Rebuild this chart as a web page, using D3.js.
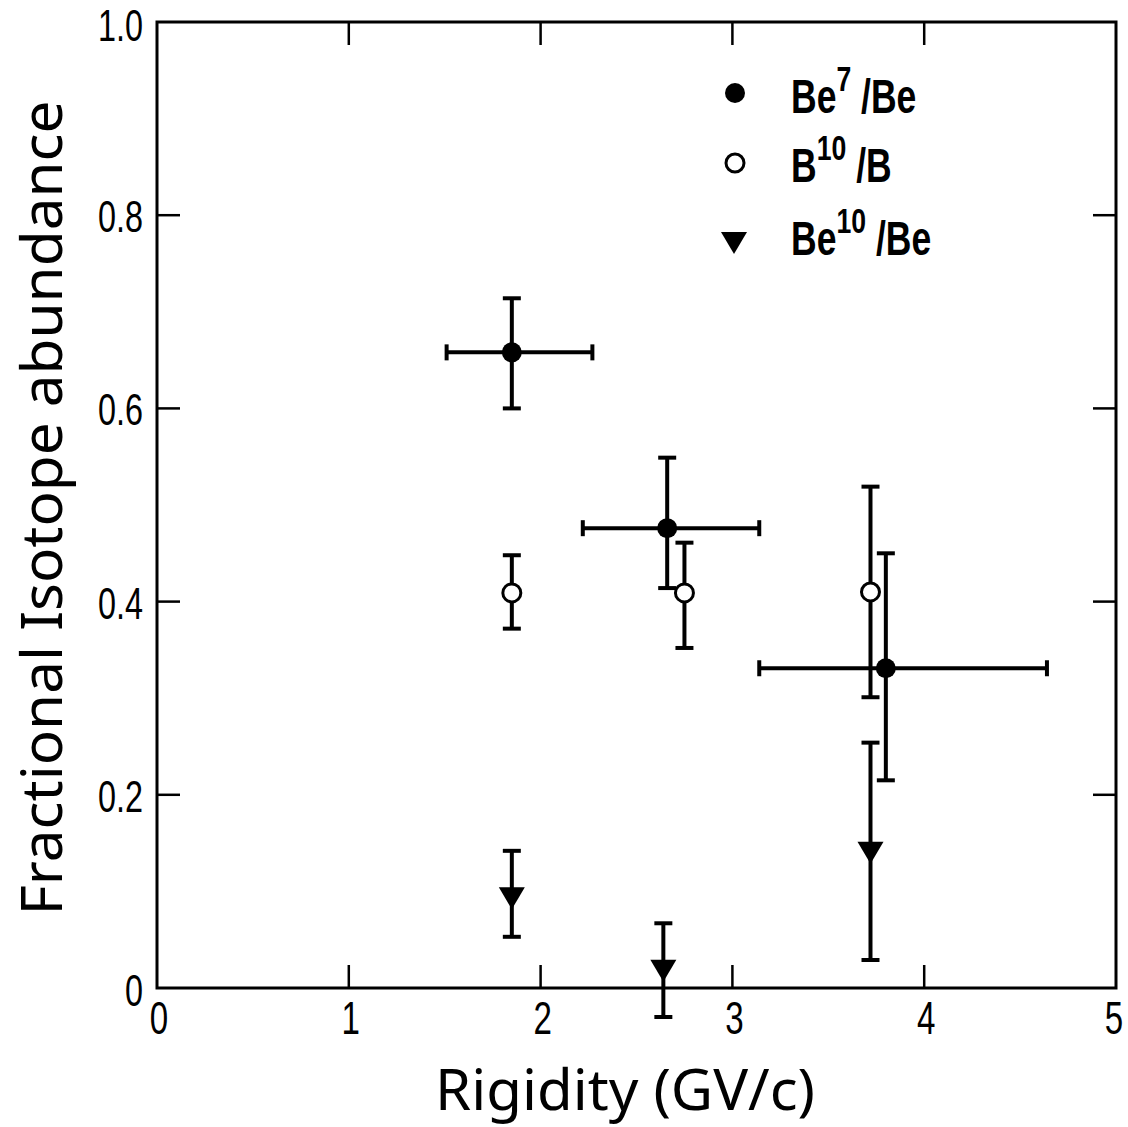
<!DOCTYPE html>
<meta charset="utf-8">
<style>
  body { margin: 0; background: #fff; }
  text { fill: #000; }
</style>
<body>
<script src="https://d3js.org/d3.v7.min.js"></script>
<script>
  // values
  var xTicks = [0, 1, 2, 3, 4, 5];
  var yTicks = [0, 0.2, 0.4, 0.6, 0.8, 1.0];
  var yTickLabels = ["0", "0.2", "0.4", "0.6", "0.8", "1.0"];

  // Be7/Be : filled circles
  var be7 = [
    {x: 1.85, y: 0.658, yLo: 0.600, yHi: 0.714, xLo: 1.51, xHi: 2.27},
    {x: 2.66, y: 0.476, yLo: 0.414, yHi: 0.549, xLo: 2.22, xHi: 3.14},
    {x: 3.80, y: 0.331, yLo: 0.215, yHi: 0.450, xLo: 3.14, xHi: 4.64}
  ];
  // B10/B : open circles
  var b10 = [
    {x: 1.85, y: 0.409, yLo: 0.372, yHi: 0.448},
    {x: 2.75, y: 0.409, yLo: 0.352, yHi: 0.461},
    {x: 3.72, y: 0.410, yLo: 0.301, yHi: 0.519}
  ];
  // Be10/Be : down triangles
  var be10 = [
    {x: 1.85, y: 0.096, yLo: 0.053, yHi: 0.142},
    {x: 2.64, y: 0.021, yLo: -0.030, yHi: 0.067},
    {x: 3.72, y: 0.143, yLo: 0.029, yHi: 0.254}
  ];

  var width = 1128, height = 1127;
  var x = d3.scaleLinear().domain([0, 5]).range([157, 1116]);
  var y = d3.scaleLinear().domain([0, 1]).range([988, 22]);

  var svg = d3.select("body").append("svg")
    .attr("width", width)
    .attr("height", height);

  var tickFont = "'Liberation Sans', sans-serif";
  var squeeze = 0.72;

  // frame
  svg.append("rect")
    .attr("x", x(0)).attr("y", y(1))
    .attr("width", x(5) - x(0)).attr("height", y(0) - y(1))
    .attr("fill", "none").attr("stroke", "#000").attr("stroke-width", 3);

  var tl = 23;
  var inner = xTicks.slice(1, -1);
  svg.selectAll(".xt").data(inner).join("line")
    .attr("x1", d => x(d)).attr("x2", d => x(d))
    .attr("y1", y(0)).attr("y2", y(0) - tl)
    .attr("stroke", "#000").attr("stroke-width", 2.5);
  svg.selectAll(".xtt").data(inner).join("line")
    .attr("x1", d => x(d)).attr("x2", d => x(d))
    .attr("y1", y(1)).attr("y2", y(1) + tl)
    .attr("stroke", "#000").attr("stroke-width", 2.5);
  var innerY = yTicks.slice(1, -1);
  svg.selectAll(".yt").data(innerY).join("line")
    .attr("y1", d => y(d)).attr("y2", d => y(d))
    .attr("x1", x(0)).attr("x2", x(0) + tl)
    .attr("stroke", "#000").attr("stroke-width", 2.5);
  svg.selectAll(".ytr").data(innerY).join("line")
    .attr("y1", d => y(d)).attr("y2", d => y(d))
    .attr("x1", x(5)).attr("x2", x(5) - tl)
    .attr("stroke", "#000").attr("stroke-width", 2.5);

  // tick labels (condensed lettering)
  svg.selectAll(".xl").data(xTicks).join("text")
    .attr("transform", d => "translate(" + (x(d) + (d === 5 ? -2 : 2)) + ",1034) scale(" + squeeze + ",1)")
    .attr("text-anchor", "middle")
    .style("font-family", tickFont).style("font-size", "46px")
    .text(d => d);
  svg.selectAll(".yl").data(yTicks).join("text")
    .attr("transform", (d, i) => "translate(143," + (y(d) + (i === 0 ? 18 : i === 5 ? 19 : 17)) + ") scale(" + squeeze + ",1)")
    .attr("text-anchor", "end")
    .style("font-family", tickFont).style("font-size", "45px")
    .text((d, i) => yTickLabels[i]);

  // axis titles
  svg.append("text")
    .attr("x", 625).attr("y", 1110)
    .attr("text-anchor", "middle")
    .attr("textLength", 380).attr("lengthAdjust", "spacingAndGlyphs")
    .style("font-family", "'Noto Sans', sans-serif").style("font-size", "56px")
    .text("Rigidity (GV/c)");
  svg.append("text")
    .attr("transform", "translate(62," + 508 + ") rotate(-90)")
    .attr("text-anchor", "middle")
    .attr("textLength", 815).attr("lengthAdjust", "spacingAndGlyphs")
    .style("font-family", "'Noto Sans', sans-serif").style("font-size", "56px")
    .text("Fractional Isotope abundance");

  // error bars
  var eb = svg.append("g").attr("stroke", "#000").attr("stroke-width", 4).attr("fill", "none");
  var cap = 9;
  function vbars(data) {
    data.forEach(function(d) {
      eb.append("line").attr("x1", x(d.x)).attr("x2", x(d.x)).attr("y1", y(d.yLo)).attr("y2", y(d.yHi));
      eb.append("line").attr("x1", x(d.x) - cap).attr("x2", x(d.x) + cap).attr("y1", y(d.yLo)).attr("y2", y(d.yLo));
      eb.append("line").attr("x1", x(d.x) - cap).attr("x2", x(d.x) + cap).attr("y1", y(d.yHi)).attr("y2", y(d.yHi));
    });
  }
  function hbars(data) {
    data.forEach(function(d) {
      eb.append("line").attr("x1", x(d.xLo)).attr("x2", x(d.xHi)).attr("y1", y(d.y)).attr("y2", y(d.y));
      eb.append("line").attr("x1", x(d.xLo)).attr("x2", x(d.xLo)).attr("y1", y(d.y) - 8).attr("y2", y(d.y) + 8);
      eb.append("line").attr("x1", x(d.xHi)).attr("x2", x(d.xHi)).attr("y1", y(d.y) - 8).attr("y2", y(d.y) + 8);
    });
  }
  vbars(b10); vbars(be10); vbars(be7); hbars(be7);

  // markers
  var tri = "M-13,-8 L13,-8 L0,14 Z";
  svg.selectAll(".be7").data(be7).join("circle")
    .attr("cx", d => x(d.x)).attr("cy", d => y(d.y)).attr("r", 10)
    .attr("fill", "#000");
  svg.selectAll(".b10").data(b10).join("circle")
    .attr("cx", d => x(d.x)).attr("cy", d => y(d.y)).attr("r", 9)
    .attr("fill", "#fff").attr("stroke", "#000").attr("stroke-width", 3);
  svg.selectAll(".be10").data(be10).join("path")
    .attr("d", tri)
    .attr("transform", d => "translate(" + x(d.x) + "," + y(d.y) + ")")
    .attr("fill", "#000");

  // legend
  var lg = svg.append("g");
  lg.append("circle").attr("cx", 735).attr("cy", 93).attr("r", 10).attr("fill", "#000");
  lg.append("circle").attr("cx", 735).attr("cy", 163).attr("r", 9)
    .attr("fill", "#fff").attr("stroke", "#000").attr("stroke-width", 3);
  lg.append("path").attr("d", tri).attr("transform", "translate(734,240)").attr("fill", "#000");

  var items = [
    {y: 113, base: "Be", sup: "7", tail: "/Be"},
    {y: 182, base: "B", sup: "10", tail: "/B"},
    {y: 255, base: "Be", sup: "10", tail: " /Be"}
  ];
  items.forEach(function(it) {
    var t = lg.append("text")
      .attr("transform", "translate(791," + it.y + ") scale(0.74,1)")
      .style("font-family", "'Liberation Sans', sans-serif").style("font-size", "48px").style("font-weight", "bold");
    t.append("tspan").text(it.base);
    t.append("tspan").attr("dy", -22).style("font-size", "36px").text(it.sup);
    t.append("tspan").attr("dy", 22).text(" " + it.tail.trim());
  });
</script>
</body>
